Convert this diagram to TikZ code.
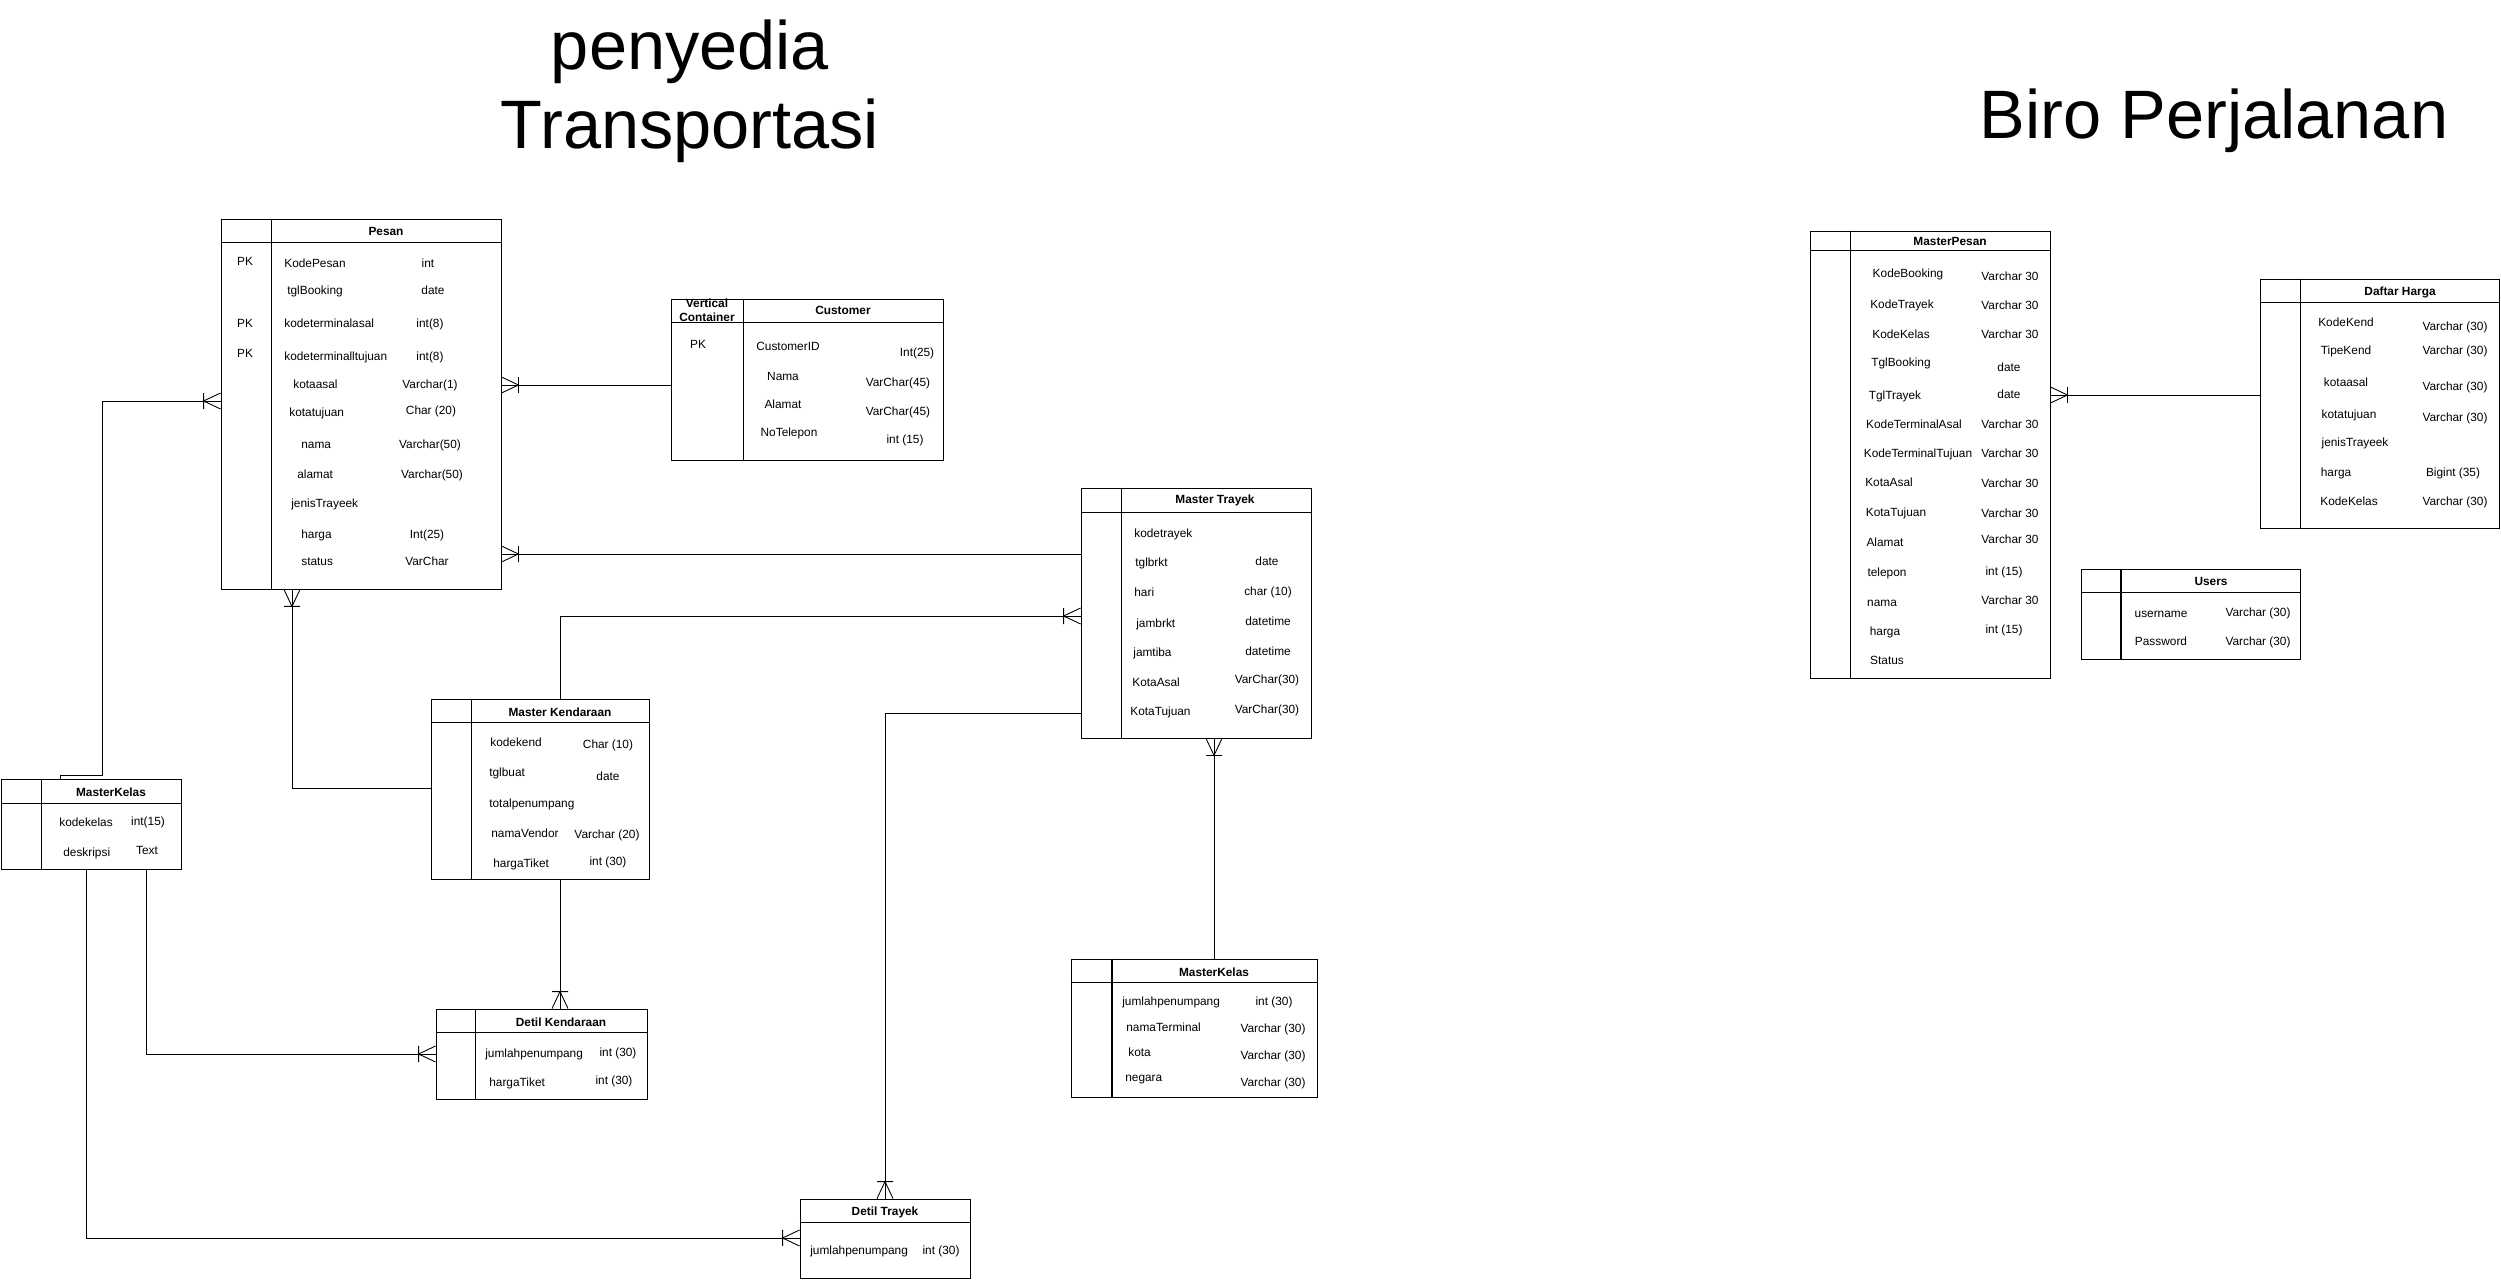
\documentclass[tikz,border=0pt]{standalone}
\usepackage{fontspec}
\setmainfont{Liberation Sans}
\usetikzlibrary{arrows.meta,fit}

% crow's foot with bar (one or many)
\pgfdeclarearrow{
  name = CrowBar,
  parameters = {\the\pgfarrowlength,\the\pgfarrowwidth},
  setup code = {
    \pgfarrowssettipend{0pt}
    \pgfarrowssetlineend{0pt}
    \pgfarrowssetbackend{-\pgfarrowlength}
    \pgfarrowssetvisualbackend{-\pgfarrowlength}
    \pgfarrowsupperhullpoint{0pt}{.5\pgfarrowwidth}
    \pgfarrowsupperhullpoint{-\pgfarrowlength}{.5\pgfarrowwidth}
    \pgfarrowssavethe\pgfarrowlength
    \pgfarrowssavethe\pgfarrowwidth
  },
  drawing code = {
    \pgfpathmoveto{\pgfqpoint{0pt}{.5\pgfarrowwidth}}
    \pgfpathlineto{\pgfqpoint{-\pgfarrowlength}{0pt}}
    \pgfpathlineto{\pgfqpoint{0pt}{-.5\pgfarrowwidth}}
    \pgfpathmoveto{\pgfqpoint{-\pgfarrowlength}{.5\pgfarrowwidth}}
    \pgfpathlineto{\pgfqpoint{-\pgfarrowlength}{-.5\pgfarrowwidth}}
    \pgfusepathqstroke
  },
  defaults = {length=0.34cm, width=0.32cm}
}

\begin{document}
\begin{tikzpicture}[x=0.02cm,y=-0.02cm,
    tbl/.style={draw,line width=0.5pt,inner sep=0pt},
    tline/.style={line width=0.5pt},
    tlinethick/.style={line width=1.1pt},
    hdr/.style={font=\fontsize{6.75}{8}\selectfont\bfseries,inner sep=0pt},
    fld/.style={font=\fontsize{6.75}{8}\selectfont,inner sep=0pt,text height=5pt,text depth=1.4pt},
    rel/.style={line width=0.5pt,-CrowBar},
    big/.style={font=\fontsize{39}{45}\selectfont,align=center,inner sep=0pt}]
            \useasboundingbox (0,0) rectangle (2501,1280);

            % Titles
            \node[big] (title-l) at (690,91) {penyedia\\Transportasi};
            \node[big] (title-r) at (2214,121) {Biro Perjalanan};

            % Pesan
            \node[tbl,fit={(221,219) (501,589)}] (pesan) {};
            \draw[tline] (pesan.west |- 0,242) -- (pesan.east |- 0,242);
            \draw[tline] (pesan.north -| 271,0) -- (pesan.south -| 271,0);
            \node[hdr] (pesan-h) at (386,231) {Pesan};
            \foreach \y [count=\i] in {262,324,354}
              \node[fld] (pesan-pk\i) at (245,\y) {PK};
            \foreach \x/\y/\t [count=\i] in {284/264/KodePesan, 287/291/tglBooking, 284/324/kodeterminalasal,
                284/357/kodeterminalltujuan, 293/385/kotaasal, 289/413/kotatujuan, 301/445/nama,
                297/475/alamat, 291/504/jenisTrayeek, 301/535/harga, 301/562/status}
              \node[fld,anchor=west] (pesan-n\i) at (\x,\y) {\t};
            \foreach \x/\y/\t [count=\i] in {428/264/int, 433/291/date, 430/324/int(8), 430/357/int(8),
                430/385/Varchar(1), 431/411/Char (20), 430/445/Varchar(50), 432/475/Varchar(50),
                427/535/Int(25), 427/562/VarChar}
              \node[fld] (pesan-t\i) at (\x,\y) {\t};

            % Customer
            \node[tbl,fit={(671,299) (943,460)}] (customer) {};
            \draw[tline] (customer.west |- 0,322) -- (customer.east |- 0,322);
            \draw[tline] (customer.north -| 743,0) -- (customer.south -| 743,0);
            \node[hdr,align=center] (customer-v) at (707,310) {Vertical\\Container};
            \node[hdr] (customer-h) at (843,310) {Customer};
            \node[fld] (customer-pk) at (698,345) {PK};
            \foreach \x/\y/\t [count=\i] in {788/347/CustomerID, 783/377/Nama, 783/405/Alamat, 789/433/NoTelepon}
              \node[fld] (customer-n\i) at (\x,\y) {\t};
            \foreach \x/\y/\t [count=\i] in {917/353/Int(25), 898/383/VarChar(45), 898/412/VarChar(45), 905/440/int (15)}
              \node[fld] (customer-t\i) at (\x,\y) {\t};

            % Master Trayek
            \node[tbl,fit={(1081,488) (1311,738)}] (trayek) {};
            \draw[tline] (trayek.west |- 0,512) -- (trayek.east |- 0,512);
            \draw[tline] (trayek.north -| 1121,0) -- (trayek.south -| 1121,0);
            \node[hdr] (trayek-h) at (1215,500) {Master Trayek};
            \foreach \x/\y/\t [count=\i] in {1134/534/kodetrayek, 1135/563/tglbrkt, 1134/593/hari, 1136/624/jambrkt,
                1133/653/jamtiba, 1132/683/KotaAsal, 1130/712/KotaTujuan}
              \node[fld,anchor=west] (trayek-n\i) at (\x,\y) {\t};
            \foreach \x/\y/\t [count=\i] in {1267/562/date, 1268/592/char (10), 1268/622/datetime, 1268/652/datetime,
                1267/680/VarChar(30), 1267/710/VarChar(30)}
              \node[fld] (trayek-t\i) at (\x,\y) {\t};

            % Master Kendaraan
            \node[tbl,fit={(431,699) (649,879)}] (kendaraan) {};
            \draw[tline] (kendaraan.west |- 0,722) -- (kendaraan.east |- 0,722);
            \draw[tline] (kendaraan.north -| 471,0) -- (kendaraan.south -| 471,0);
            \node[hdr] (kendaraan-h) at (560,712) {Master Kendaraan};
            \foreach \x/\y/\t [count=\i] in {490/743/kodekend, 489/773/tglbuat, 489/804/totalpenumpang,
                491/834/namaVendor, 493/864/hargaTiket}
              \node[fld,anchor=west] (kendaraan-n\i) at (\x,\y) {\t};
            \foreach \x/\y/\t [count=\i] in {608/745/Char (10), 608/777/date, 607/835/Varchar (20), 608/862/int (30)}
              \node[fld] (kendaraan-t\i) at (\x,\y) {\t};

            % MasterKelas (left)
            \node[tbl,fit={(1,779) (181,869)}] (kelas) {};
            \draw[tline] (kelas.west |- 0,803) -- (kelas.east |- 0,803);
            \draw[tline] (kelas.north -| 41,0) -- (kelas.south -| 41,0);
            \node[hdr] (kelas-h) at (111,792) {MasterKelas};
            \node[fld,anchor=west] (kelas-n1) at (59,823) {kodekelas};
            \node[fld,anchor=west] (kelas-n2) at (63,853) {deskripsi};
            \node[fld] (kelas-t1) at (148,822) {int(15)};
            \node[fld] (kelas-t2) at (147,851) {Text};

            % Detil Kendaraan
            \node[tbl,fit={(436,1009) (647,1099)}] (detilkend) {};
            \draw[tline] (detilkend.west |- 0,1032) -- (detilkend.east |- 0,1032);
            \draw[tline] (detilkend.north -| 475,0) -- (detilkend.south -| 475,0);
            \node[hdr] (detilkend-h) at (561,1022) {Detil Kendaraan};
            \node[fld,anchor=west] (detilkend-n1) at (485,1054) {jumlahpenumpang};
            \node[fld,anchor=west] (detilkend-n2) at (489,1083) {hargaTiket};
            \node[fld] (detilkend-t1) at (618,1053) {int (30)};
            \node[fld] (detilkend-t2) at (614,1081) {int (30)};

            % Detil Trayek
            \node[tbl,fit={(800,1199) (970,1278)}] (detiltrayek) {};
            \draw[tline] (detiltrayek.west |- 0,1222) -- (detiltrayek.east |- 0,1222);
            \node[hdr] (detiltrayek-h) at (885,1212) {Detil Trayek};
            \node[fld,anchor=west] (detiltrayek-n1) at (810,1251) {jumlahpenumpang};
            \node[fld] (detiltrayek-t1) at (941,1251) {int (30)};

            % MasterKelas (right)
            \node[tbl,fit={(1071,959) (1317,1097)}] (kelasb) {};
            \draw[tline] (kelasb.west |- 0,982) -- (kelasb.east |- 0,982);
            \draw[tlinethick] (kelasb.north -| 1112,0) -- (kelasb.south -| 1112,0);
            \node[hdr] (kelasb-h) at (1214,972) {MasterKelas};
            \foreach \x/\y/\t [count=\i] in {1122/1002/jumlahpenumpang, 1126/1028/namaTerminal, 1128/1053/kota, 1125/1078/negara}
              \node[fld,anchor=west] (kelasb-n\i) at (\x,\y) {\t};
            \foreach \x/\y/\t [count=\i] in {1274/1002/int (30), 1273/1029/Varchar (30), 1273/1056/Varchar (30), 1273/1083/Varchar (30)}
              \node[fld] (kelasb-t\i) at (\x,\y) {\t};

            % MasterPesan
            \node[tbl,fit={(1810,231) (2050,678)}] (mpesan) {};
            \draw[tline] (mpesan.west |- 0,250) -- (mpesan.east |- 0,250);
            \draw[tline] (mpesan.north -| 1850,0) -- (mpesan.south -| 1850,0);
            \node[hdr] (mpesan-h) at (1950,241) {MasterPesan};
            \foreach \x/\y/\t [count=\i] in {1908/274/KodeBooking, 1902/305/KodeTrayek, 1901/335/KodeKelas,
                1901/363/TglBooking, 1895/396/TglTrayek, 1914/425/KodeTerminalAsal, 1918/454/KodeTerminalTujuan,
                1889/483/KotaAsal, 1896/513/KotaTujuan, 1885/543/Alamat, 1887/573/telepon, 1882/603/nama,
                1885/632/harga, 1887/661/Status}
              \node[fld] (mpesan-n\i) at (\x,\y) {\t};
            \foreach \x/\y/\t [count=\i] in {2010/277/Varchar 30, 2010/306/Varchar 30, 2010/335/Varchar 30,
                2009/368/date, 2009/395/date, 2010/425/Varchar 30, 2010/454/Varchar 30, 2010/484/Varchar 30,
                2010/514/Varchar 30, 2010/540/Varchar 30, 2004/572/int (15), 2010/601/Varchar 30, 2004/630/int (15)}
              \node[fld] (mpesan-t\i) at (\x,\y) {\t};

            % Daftar Harga
            \node[tbl,fit={(2260,279) (2499,528)}] (harga) {};
            \draw[tline] (harga.west |- 0,302) -- (harga.east |- 0,302);
            \draw[tline] (harga.north -| 2300,0) -- (harga.south -| 2300,0);
            \node[hdr] (harga-h) at (2400,292) {Daftar Harga};
            \foreach \x/\y/\t [count=\i] in {2346/323/KodeKend, 2346/351/TipeKend, 2346/383/kotaasal,
                2349/415/kotatujuan, 2355/443/jenisTrayeek, 2336/473/harga, 2349/502/KodeKelas}
              \node[fld] (harga-n\i) at (\x,\y) {\t};
            \foreach \x/\y/\t [count=\i] in {2455/327/Varchar (30), 2455/351/Varchar (30), 2455/387/Varchar (30),
                2455/418/Varchar (30), 2453/473/Bigint (35), 2455/502/Varchar (30)}
              \node[fld] (harga-t\i) at (\x,\y) {\t};

            % Users
            \node[tbl,fit={(2081,569) (2300,659)}] (users) {};
            \draw[tline] (users.west |- 0,592) -- (users.east |- 0,592);
            \draw[tlinethick] (users.north -| 2121,0) -- (users.south -| 2121,0);
            \node[hdr] (users-h) at (2211,581) {Users};
            \node[fld] (users-n1) at (2161,614) {username};
            \node[fld] (users-n2) at (2161,642) {Password};
            \node[fld] (users-t1) at (2258,613) {Varchar (30)};
            \node[fld] (users-t2) at (2258,642) {Varchar (30)};

            % Connections
            \draw[rel] (customer.west |- 0,385) -- (pesan.east |- 0,385);
            \draw[rel] (trayek.west |- 0,554) -- (pesan.east |- 0,554);
            \draw[rel] (kendaraan.north -| 560,0) |- (trayek.west |- 0,616);
            \draw[rel] (kendaraan.west |- 0,788) -| (pesan.south -| 292,0);
            \draw[rel] (kendaraan.south -| 560,0) -- (detilkend.north -| 560,0);
            \draw[rel] (kelas.north -| 60,0) -- ++(0,-3) -- ++(42,0) |- (pesan.west |- 0,401);
            \draw[rel] (kelas.south -| 146,0) |- (detilkend.west |- 0,1054);
            \draw[rel] (kelas.south -| 86,0) |- (detiltrayek.west |- 0,1238);
            \draw[rel] (trayek.west |- 0,713) -| (detiltrayek.north -| 885,0);
            \draw[rel] (kelasb.north -| 1214,0) -- (trayek.south -| 1214,0);
            \draw[rel] (harga.west |- 0,395) -- (mpesan.east |- 0,395);
        \end{tikzpicture}
\end{document}
